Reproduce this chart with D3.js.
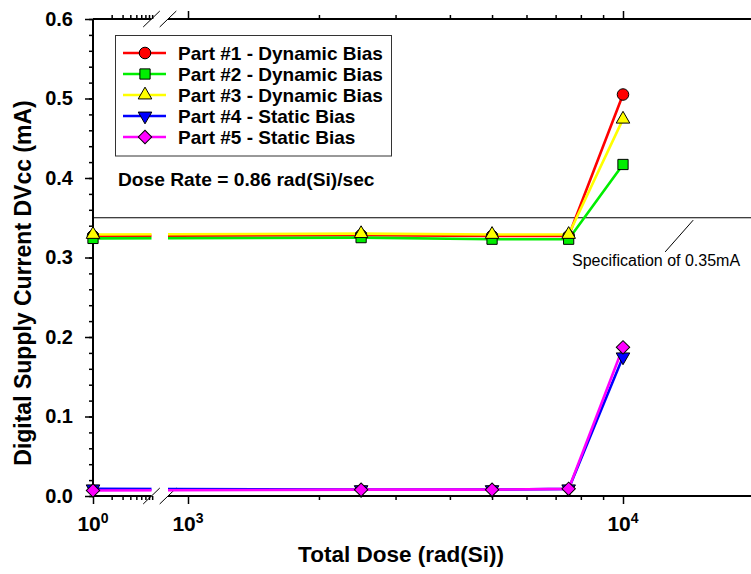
<!DOCTYPE html>
<html>
<head>
<meta charset="utf-8">
<script src="https://cdn.jsdelivr.net/npm/d3@7"></script>
<style>
  html, body { margin: 0; padding: 0; background: #fff; }
  svg { display: block; }
  text { font-family: "Liberation Sans", Arial, sans-serif; }
</style>
</head>
<body>
<svg id="chart" width="751" height="574"></svg>
<script>
// ---------------- data ----------------
const doses = [1, 2500, 5000, 7500, 10000];          // rad(Si); "1" is plotted on the left (pre-rad) segment
const seriesNames = [
  "Part #1 - Dynamic Bias",
  "Part #2 - Dynamic Bias",
  "Part #3 - Dynamic Bias",
  "Part #4 - Static Bias",
  "Part #5 - Static Bias"
];
const part1 = [0.327, 0.328, 0.327, 0.327, 0.505];
const part2 = [0.324, 0.325, 0.323, 0.323, 0.417];
const part3 = [0.329, 0.330, 0.329, 0.329, 0.474];
const part4 = [0.009, 0.008, 0.008, 0.009, 0.175];
const part5 = [0.007, 0.008, 0.008, 0.009, 0.187];
const seriesValues = [part1, part2, part3, part4, part5];
const seriesColors = ["#ff0000", "#00ee00", "#ffff00", "#0000ff", "#ff00ff"];
const seriesSymbols = ["circle", "square", "triangle", "triangleDown", "diamond"];

const yMajorTicks = [0, 0.1, 0.2, 0.3, 0.4, 0.5, 0.6];
const yMinorTicks = d3.range(0, 0.6001, 0.02);
const xLeftMajor = [1];
const xLeftMinor = [2, 3, 4, 5, 6, 7, 8, 9];
const xRightMajor = [1000, 10000];
const xRightMinor = [2000, 3000, 4000, 5000, 6000, 7000, 8000, 9000];
const xTickExponents = { 1: "0", 1000: "3", 10000: "4" };
const specValue = 0.35;
const specLabel = "Specification of 0.35mA";
const doseRateLabel = "Dose Rate = 0.86 rad(Si)/sec";
const xTitle = "Total Dose (rad(Si))";
const yTitle = "Digital Supply Current DVcc (mA)";

// ---------------- layout ----------------
const svg = d3.select("#chart");
const pTop = 19, pBottom = 496, pLeft = 93;
const leftEnd = 151.5, rightStart = 168;

const y = d3.scaleLinear().domain([0, 0.6]).range([pBottom, pTop]);
const xL = d3.scaleLog().domain([1, 10]).range([93, 155]);
const xR = d3.scaleLog().domain([1000, 10000]).range([188, 623]);
const xPos = d => (d < 100 ? xL(d) : xR(d));

// clip for broken axis
const defs = svg.append("defs");
const clip = defs.append("clipPath").attr("id", "brk");
clip.append("rect").attr("x", 0).attr("y", 0).attr("width", leftEnd).attr("height", 574);
clip.append("rect").attr("x", rightStart).attr("y", 0).attr("width", 800 - rightStart).attr("height", 574);

// spec line
svg.append("line")
  .attr("x1", pLeft).attr("x2", 751)
  .attr("y1", y(specValue)).attr("y2", y(specValue))
  .attr("stroke", "#000").attr("stroke-width", 1);

// ---------------- axes ----------------
function styleAxis(g) {
  g.select(".domain").remove();
  g.selectAll("line").attr("stroke", "#000").attr("stroke-width", 1.5);
}
// bottom
svg.append("g").attr("transform", `translate(0,${pBottom})`)
  .call(d3.axisBottom(xL).tickValues(xLeftMinor).tickSize(4).tickFormat("")).call(styleAxis);
svg.append("g").attr("transform", `translate(0,${pBottom})`)
  .call(d3.axisBottom(xL).tickValues(xLeftMajor).tickSize(8).tickFormat("")).call(styleAxis);
svg.append("g").attr("transform", `translate(0,${pBottom})`)
  .call(d3.axisBottom(xR).tickValues(xRightMinor).tickSize(4).tickFormat("")).call(styleAxis);
svg.append("g").attr("transform", `translate(0,${pBottom})`)
  .call(d3.axisBottom(xR).tickValues(xRightMajor).tickSize(8).tickFormat("")).call(styleAxis);
// top
svg.append("g").attr("transform", `translate(0,${pTop})`)
  .call(d3.axisTop(xL).tickValues(xLeftMinor).tickSize(4).tickFormat("")).call(styleAxis);
svg.append("g").attr("transform", `translate(0,${pTop})`)
  .call(d3.axisTop(xR).tickValues(xRightMinor).tickSize(4).tickFormat("")).call(styleAxis);
svg.append("g").attr("transform", `translate(0,${pTop})`)
  .call(d3.axisTop(xR).tickValues(xRightMajor).tickSize(8).tickFormat("")).call(styleAxis);
// left
svg.append("g").attr("transform", `translate(${pLeft},0)`)
  .call(d3.axisLeft(y).tickValues(yMinorTicks).tickSize(4).tickFormat("")).call(styleAxis);
const yAx = svg.append("g").attr("transform", `translate(${pLeft},0)`)
  .call(d3.axisLeft(y).tickValues(yMajorTicks).tickSize(8).tickPadding(12).tickFormat(d3.format(".1f")));
yAx.call(styleAxis);
yAx.selectAll("text")
  .attr("font-family", "'Liberation Sans', Arial, sans-serif")
  .attr("font-size", 20).attr("font-weight", "bold").attr("fill", "#000");

// axis lines (broken)
const axisLines = [
  [pLeft, leftEnd, pBottom], [rightStart, 751, pBottom],
  [pLeft, leftEnd, pTop], [rightStart, 751, pTop]
];
axisLines.forEach(([a, b, yy]) => {
  svg.append("line").attr("x1", a).attr("x2", b).attr("y1", yy).attr("y2", yy)
    .attr("stroke", "#000").attr("stroke-width", 2);
});
svg.append("line").attr("x1", pLeft).attr("x2", pLeft).attr("y1", pTop).attr("y2", pBottom)
  .attr("stroke", "#000").attr("stroke-width", 2);

// break slashes
[pTop, pBottom].forEach(yy => {
  [leftEnd, rightStart].forEach(xx => {
    svg.append("line")
      .attr("x1", xx - 8.3).attr("y1", yy + 8)
      .attr("x2", xx + 8.3).attr("y2", yy - 8)
      .attr("stroke", "#000").attr("stroke-width", 1);
  });
});

// x tick labels with superscripts
[...xLeftMajor.map(d => [d, xL(d)]), ...xRightMajor.map(d => [d, xR(d)])].forEach(([d, px]) => {
  const t = svg.append("text")
    .attr("x", px).attr("y", 531)
    .attr("text-anchor", "middle")
    .attr("font-size", 21).attr("font-weight", "bold").attr("fill", "#000");
  t.append("tspan").text("10");
  t.append("tspan").attr("font-size", 14).attr("dy", -8).text(xTickExponents[d]);
});

// axis titles
svg.append("text")
  .attr("x", 401).attr("y", 562)
  .attr("text-anchor", "middle")
  .attr("font-size", 22.5).attr("font-weight", "bold").attr("fill", "#000")
  .text(xTitle);
svg.append("text")
  .attr("transform", `translate(31,283) rotate(-90)`)
  .attr("text-anchor", "middle")
  .attr("font-size", 23).attr("font-weight", "bold").attr("fill", "#000")
  .text(yTitle);

// ---------------- series ----------------
function symbolPath(name) {
  switch (name) {
    case "circle": return { d: d3.symbol(d3.symbolCircle, 105)(), rot: 0 };
    case "square": return { d: d3.symbol(d3.symbolSquare, 105)(), rot: 0 };
    case "triangle": return { d: d3.symbol(d3.symbolTriangle, 80)(), rot: 0 };
    case "triangleDown": return { d: d3.symbol(d3.symbolTriangle, 80)(), rot: 180 };
    case "diamond": return { d: d3.symbol(d3.symbolSquare, 90)(), rot: 45 };
  }
}

const line = d3.line().x(p => xPos(p[0])).y(p => y(p[1]));
seriesValues.forEach((vals, i) => {
  const pts = doses.map((d, j) => [d, vals[j]]);
  svg.append("path")
    .attr("d", line(pts))
    .attr("fill", "none")
    .attr("stroke", seriesColors[i])
    .attr("stroke-width", 2.6)
    .attr("clip-path", "url(#brk)");
});
seriesValues.forEach((vals, i) => {
  const s = symbolPath(seriesSymbols[i]);
  svg.append("g").selectAll("path")
    .data(doses.map((d, j) => [d, vals[j]]))
    .join("path")
    .attr("d", s.d)
    .attr("transform", p => `translate(${xPos(p[0])},${y(p[1])}) rotate(${s.rot})`)
    .attr("fill", seriesColors[i])
    .attr("stroke", "#000").attr("stroke-width", 1);
});

// ---------------- legend ----------------
const lg = svg.append("g");
lg.append("rect")
  .attr("x", 115.5).attr("y", 35.5).attr("width", 276).attr("height", 120.5)
  .attr("fill", "#fff").attr("stroke", "#333").attr("stroke-width", 1);
seriesNames.forEach((name, i) => {
  const cy = 53 + i * 21;
  lg.append("line").attr("x1", 123).attr("x2", 166).attr("y1", cy).attr("y2", cy)
    .attr("stroke", seriesColors[i]).attr("stroke-width", 2.6);
  const s = symbolPath(seriesSymbols[i]);
  lg.append("path").attr("d", s.d)
    .attr("transform", `translate(145,${cy}) rotate(${s.rot})`)
    .attr("fill", seriesColors[i]).attr("stroke", "#000").attr("stroke-width", 1);
  lg.append("text").attr("x", 178).attr("y", cy + 6.5)
    .attr("font-size", 19).attr("font-weight", "bold").attr("fill", "#000")
    .text(name);
});

// annotations
svg.append("text").attr("x", 118).attr("y", 186)
  .attr("font-size", 19.2).attr("font-weight", "bold").attr("fill", "#000")
  .text(doseRateLabel);

svg.append("line")
  .attr("x1", xR(12500)).attr("y1", y(0.307))
  .attr("x2", xR(14500)).attr("y2", y(0.347))
  .attr("stroke", "#000").attr("stroke-width", 1);
svg.append("text").attr("x", 572).attr("y", 266)
  .attr("font-size", 16).attr("fill", "#000")
  .text(specLabel);
</script>
</body>
</html>
